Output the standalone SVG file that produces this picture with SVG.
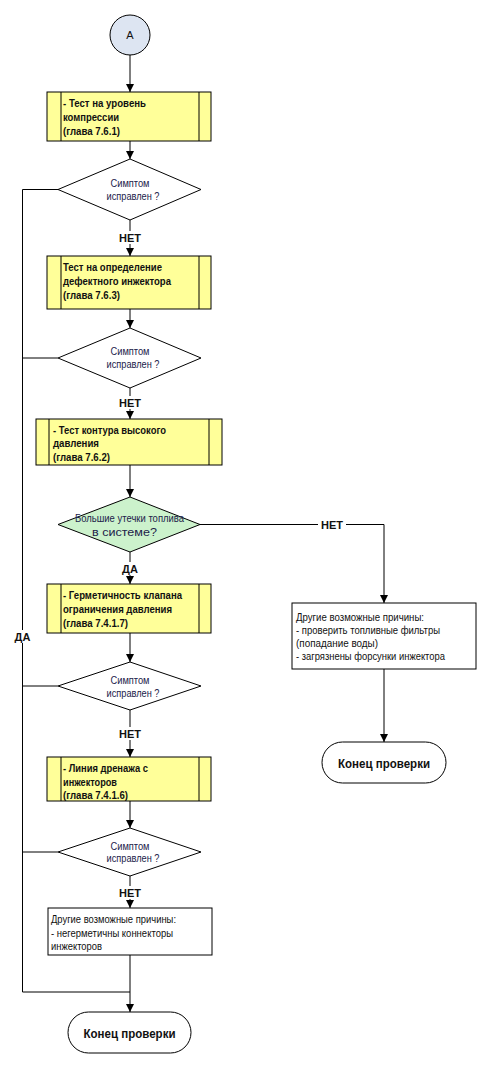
<svg xmlns="http://www.w3.org/2000/svg" width="500" height="1070" viewBox="0 0 500 1070">
<defs>
<marker id="arr" viewBox="0 0 10 10" refX="10" refY="5" markerWidth="8" markerHeight="8" markerUnits="userSpaceOnUse" orient="auto">
<path d="M0,0 L10,5 L0,10 Z" fill="#000"/>
</marker>
<style>
.ln{fill:none;stroke:#000;stroke-width:1}
.box{fill:#ffff99;stroke:#000;stroke-width:1}
.wbox{fill:#fff;stroke:#000;stroke-width:1}
.dia{fill:#fff;stroke:#000;stroke-width:1}
.gdia{fill:#ccf2cc;stroke:#000;stroke-width:1}
.bt{font-family:"Liberation Sans",Arial,sans-serif;font-size:11px;font-weight:bold;fill:#111}
.rt{font-family:"Liberation Sans",Arial,sans-serif;font-size:10px;fill:#111}
.dt{font-family:"Liberation Sans",Arial,sans-serif;font-size:10px;fill:#22224a;text-anchor:middle}
.lb{font-family:"Liberation Sans",Arial,sans-serif;font-size:11px;font-weight:bold;fill:#111;text-anchor:middle}
.tt{font-family:"Liberation Sans",Arial,sans-serif;font-size:12px;font-weight:bold;fill:#111;text-anchor:middle}
</style>
</defs>
<rect width="500" height="1070" fill="#fff"/>

<g id="connectors">
<line class="ln" x1="130" y1="55" x2="130" y2="92" marker-end="url(#arr)"/>
<line class="ln" x1="130" y1="141" x2="130" y2="159" marker-end="url(#arr)"/>
<line class="ln" x1="130" y1="220" x2="130" y2="256" marker-end="url(#arr)"/>
<line class="ln" x1="130" y1="309" x2="130" y2="328" marker-end="url(#arr)"/>
<line class="ln" x1="130" y1="388" x2="130" y2="419" marker-end="url(#arr)"/>
<line class="ln" x1="130" y1="465" x2="130" y2="497" marker-end="url(#arr)"/>
<line class="ln" x1="130" y1="552" x2="130" y2="584" marker-end="url(#arr)"/>
<line class="ln" x1="130" y1="633" x2="130" y2="662" marker-end="url(#arr)"/>
<line class="ln" x1="130" y1="710" x2="130" y2="757" marker-end="url(#arr)"/>
<line class="ln" x1="130" y1="801" x2="130" y2="828" marker-end="url(#arr)"/>
<line class="ln" x1="130" y1="876" x2="130" y2="908" marker-end="url(#arr)"/>
<line class="ln" x1="130" y1="955" x2="130" y2="1012" marker-end="url(#arr)"/>
<polyline class="ln" points="58,189.5 22.5,189.5 22.5,992 130,992"/>
<line class="ln" x1="58" y1="358" x2="22.5" y2="358"/>
<line class="ln" x1="58" y1="686" x2="22.5" y2="686"/>
<line class="ln" x1="58" y1="852" x2="22.5" y2="852"/>
<polyline class="ln" points="200,524.5 384,524.5 384,603" marker-end="url(#arr)"/>
<line class="ln" x1="384" y1="669" x2="384" y2="742" marker-end="url(#arr)"/>
<rect x="116" y="231" width="28" height="13" fill="#fff"/>
<text class="lb" x="130" y="242">НЕТ</text>
<rect x="116" y="396" width="28" height="13" fill="#fff"/>
<text class="lb" x="130" y="407">НЕТ</text>
<rect x="119" y="562" width="22" height="13" fill="#fff"/>
<text class="lb" x="130" y="573">ДА</text>
<rect x="116" y="727" width="28" height="13" fill="#fff"/>
<text class="lb" x="130" y="738">НЕТ</text>
<rect x="116" y="886" width="28" height="13" fill="#fff"/>
<text class="lb" x="130" y="897">НЕТ</text>
<rect x="12" y="630" width="22" height="13" fill="#fff"/>
<text class="lb" x="22.5" y="641">ДА</text>
<rect x="318" y="518" width="28" height="13" fill="#fff"/>
<text class="lb" x="332" y="528.5">НЕТ</text>
</g>

<g id="start">
<circle cx="130" cy="35" r="20" fill="#dde5f2" stroke="#000" stroke-width="1"/>
<text class="dt" x="130" y="39" style="font-size:11px;fill:#111">A</text>
</g>

<g id="box1">
<rect class="box" x="47" y="92" width="164" height="49"/>
<line class="ln" x1="61" y1="92" x2="61" y2="141"/>
<line class="ln" x1="199" y1="92" x2="199" y2="141"/>
<text class="bt" x="63" y="107" textLength="83" lengthAdjust="spacingAndGlyphs">- Тест на уровень</text>
<text class="bt" x="63" y="121" textLength="56" lengthAdjust="spacingAndGlyphs">компрессии</text>
<text class="bt" x="63" y="135" textLength="57" lengthAdjust="spacingAndGlyphs">(глава 7.6.1)</text>
</g>

<g id="dec1">
<polygon class="dia" points="130,159 201,189.5 130,220 58,189.5"/>
<text class="dt" x="130" y="186.5" textLength="39" lengthAdjust="spacingAndGlyphs">Симптом</text>
<text class="dt" x="133" y="199.5" textLength="53" lengthAdjust="spacingAndGlyphs">исправлен ?</text>
</g>

<g id="box2">
<rect class="box" x="47" y="256" width="164" height="53"/>
<line class="ln" x1="61" y1="256" x2="61" y2="309"/>
<line class="ln" x1="199" y1="256" x2="199" y2="309"/>
<text class="bt" x="63" y="271" textLength="99" lengthAdjust="spacingAndGlyphs">Тест на определение</text>
<text class="bt" x="63" y="285" textLength="108" lengthAdjust="spacingAndGlyphs">дефектного инжектора</text>
<text class="bt" x="63" y="299" textLength="57" lengthAdjust="spacingAndGlyphs">(глава 7.6.3)</text>
</g>

<g id="dec2">
<polygon class="dia" points="130,328 201,358 130,388 58,358"/>
<text class="dt" x="130" y="355" textLength="39" lengthAdjust="spacingAndGlyphs">Симптом</text>
<text class="dt" x="133" y="368" textLength="53" lengthAdjust="spacingAndGlyphs">исправлен ?</text>
</g>

<g id="box3">
<rect class="box" x="36" y="419" width="186" height="46"/>
<line class="ln" x1="49" y1="419" x2="49" y2="465"/>
<line class="ln" x1="209" y1="419" x2="209" y2="465"/>
<text class="bt" x="53" y="434" textLength="113" lengthAdjust="spacingAndGlyphs">- Тест контура высокого</text>
<text class="bt" x="53" y="447" textLength="46" lengthAdjust="spacingAndGlyphs">давления</text>
<text class="bt" x="53" y="461" textLength="57" lengthAdjust="spacingAndGlyphs">(глава 7.6.2)</text>
</g>

<g id="dec3">
<polygon class="gdia" points="130,497 200,524.5 130,552 58,524.5"/>
<text class="dt" x="129.5" y="521.5" textLength="109" lengthAdjust="spacingAndGlyphs">Большие утечки топлива</text>
<text class="dt" x="124.5" y="535.5" textLength="65" lengthAdjust="spacingAndGlyphs">в системе?</text>
</g>

<g id="box4">
<rect class="box" x="47" y="584" width="164" height="49"/>
<line class="ln" x1="61" y1="584" x2="61" y2="633"/>
<line class="ln" x1="199" y1="584" x2="199" y2="633"/>
<text class="bt" x="63" y="599" textLength="119" lengthAdjust="spacingAndGlyphs">- Герметичность клапана</text>
<text class="bt" x="63" y="613" textLength="109" lengthAdjust="spacingAndGlyphs">ограничения давления</text>
<text class="bt" x="63" y="627" textLength="65" lengthAdjust="spacingAndGlyphs">(глава 7.4.1.7)</text>
</g>

<g id="other1">
<rect class="wbox" x="292" y="603" width="184" height="66"/>
<text class="rt" x="296" y="620.5" textLength="128" lengthAdjust="spacingAndGlyphs">Другие возможные причины:</text>
<text class="rt" x="296" y="633.5" textLength="144" lengthAdjust="spacingAndGlyphs">- проверить топливные фильтры</text>
<text class="rt" x="296" y="646.5" textLength="82" lengthAdjust="spacingAndGlyphs">(попадание воды)</text>
<text class="rt" x="296" y="660" textLength="149" lengthAdjust="spacingAndGlyphs">- загрязнены форсунки инжектора</text>
</g>

<g id="end1">
<rect class="wbox" x="322" y="742" width="124" height="41" rx="20.5" ry="20.5"/>
<text class="tt" x="384" y="768" textLength="92" lengthAdjust="spacingAndGlyphs">Конец проверки</text>
</g>

<g id="dec4">
<polygon class="dia" points="130,662 201,686 130,710 58,686"/>
<text class="dt" x="130" y="683.5" textLength="39" lengthAdjust="spacingAndGlyphs">Симптом</text>
<text class="dt" x="133" y="696.5" textLength="53" lengthAdjust="spacingAndGlyphs">исправлен ?</text>
</g>

<g id="box5">
<rect class="box" x="47" y="757" width="164" height="44"/>
<line class="ln" x1="61" y1="757" x2="61" y2="801"/>
<line class="ln" x1="199" y1="757" x2="199" y2="801"/>
<text class="bt" x="63" y="772" textLength="85" lengthAdjust="spacingAndGlyphs">- Линия дренажа с</text>
<text class="bt" x="63" y="786" textLength="54" lengthAdjust="spacingAndGlyphs">инжекторов</text>
<text class="bt" x="63" y="799" textLength="65" lengthAdjust="spacingAndGlyphs">(глава 7.4.1.6)</text>
</g>

<g id="dec5">
<polygon class="dia" points="130,828 201,852 130,876 58,852"/>
<text class="dt" x="130" y="849.5" textLength="39" lengthAdjust="spacingAndGlyphs">Симптом</text>
<text class="dt" x="133" y="862" textLength="53" lengthAdjust="spacingAndGlyphs">исправлен ?</text>
</g>

<g id="other2">
<rect class="wbox" x="48" y="908" width="164" height="47"/>
<text class="rt" x="51" y="922.5" textLength="125" lengthAdjust="spacingAndGlyphs">Другие возможные причины:</text>
<text class="rt" x="51" y="936.5" textLength="122" lengthAdjust="spacingAndGlyphs">- негерметичны коннекторы</text>
<text class="rt" x="51" y="950" textLength="51" lengthAdjust="spacingAndGlyphs">инжекторов</text>
</g>

<g id="end2">
<rect class="wbox" x="68" y="1012" width="123" height="41" rx="20.5" ry="20.5"/>
<text class="tt" x="129.5" y="1038" textLength="92" lengthAdjust="spacingAndGlyphs">Конец проверки</text>
</g>
</svg>
